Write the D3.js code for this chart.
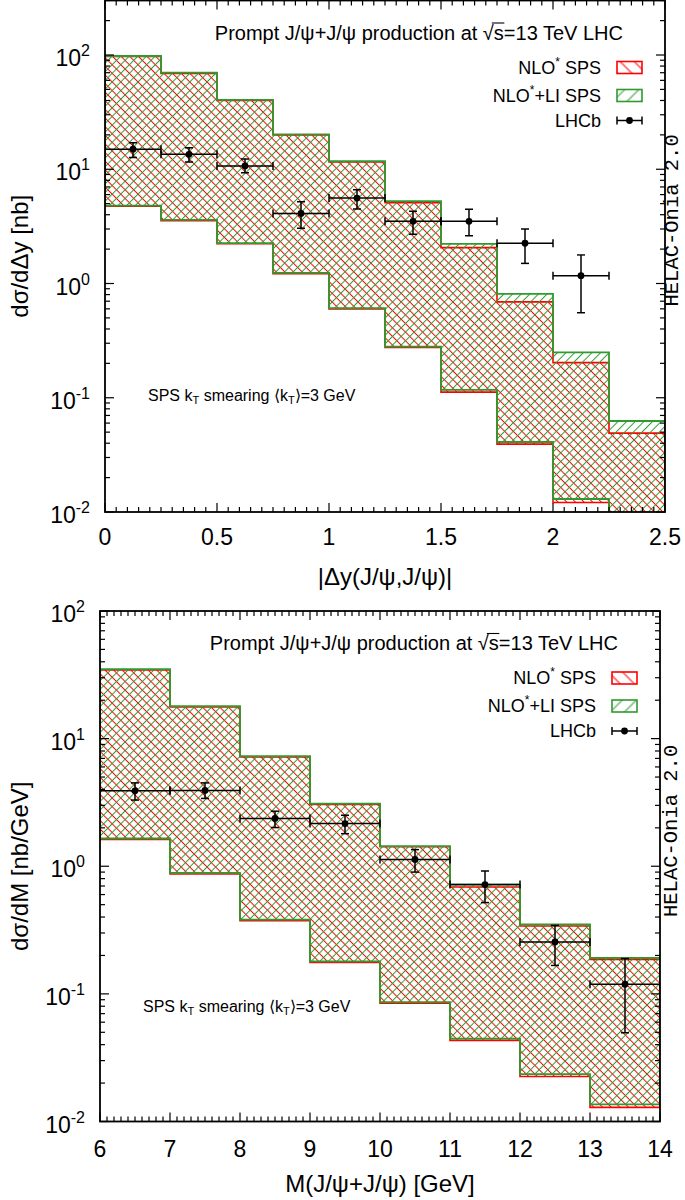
<!DOCTYPE html>
<html><head><meta charset="utf-8">
<script src="https://cdn.jsdelivr.net/npm/d3@7"></script>
<style>body{margin:0;background:#fff}svg{display:block}text{fill:#000}</style>
</head><body><svg id="c" width="685" height="1200"></svg>
<script>
// ---------- Top panel: |Δy| distribution ----------
const dyEdges = [0, 0.25, 0.5, 0.75, 1.0, 1.25, 1.5, 1.75, 2.0, 2.25, 2.5];
const dyRedUp    = [97, 69, 40, 20, 11.6, 5.1, 2.06, 0.69, 0.203, 0.049];
const dyGreenUp  = [98, 70, 40.5, 20.2, 11.8, 5.27, 2.22, 0.81, 0.25, 0.0626];
const dyRedLow   = [4.75, 3.55, 2.23, 1.22, 0.60, 0.275, 0.112, 0.0393, 0.0121, 0.004];
const dyGreenLow = [4.8, 3.6, 2.26, 1.24, 0.61, 0.28, 0.117, 0.041, 0.013, 0.0045];
const dyDataX  = [0.125, 0.375, 0.625, 0.875, 1.125, 1.375, 1.625, 1.875, 2.125];
const dyData   = [15.0, 13.5, 10.7, 4.1, 5.6, 3.5, 3.5, 2.25, 1.17];
const dyErrHi  = [17.1, 15.4, 12.3, 5.2, 6.6, 4.3, 4.46, 3.0, 1.78];
const dyErrLo  = [12.7, 11.6, 9.3, 3.04, 4.5, 2.7, 2.62, 1.5, 0.555];
const dyXTicks = [0, 0.5, 1, 1.5, 2, 2.5];

// ---------- Bottom panel: M distribution ----------
const mEdges = [6, 7, 8, 9, 10, 11, 12, 13, 14];
const mRedUp    = [34.5, 17.7, 7.2, 3.05, 1.42, 0.688, 0.340, 0.186];
const mGreenUp  = [35, 18.0, 7.29, 3.1, 1.44, 0.718, 0.351, 0.191];
const mRedLow   = [1.62, 0.87, 0.375, 0.176, 0.0845, 0.0432, 0.0225, 0.0129];
const mGreenLow = [1.65, 0.886, 0.382, 0.18, 0.0863, 0.0446, 0.0235, 0.0136];
const mDataX  = [6.5, 7.5, 8.5, 9.5, 10.5, 11.5, 12.5, 13.5];
const mData   = [3.9, 3.93, 2.37, 2.16, 1.13, 0.718, 0.255, 0.119];
const mErrHi  = [4.5, 4.5, 2.7, 2.51, 1.35, 0.918, 0.344, 0.189];
const mErrLo  = [3.3, 3.4, 2.01, 1.8, 0.90, 0.519, 0.167, 0.0496];
const mXTicks = [6, 7, 8, 9, 10, 11, 12, 13, 14];

const yExps = [-2, -1, 0, 1, 2];
const legendLabels = ["NLO", "NLO", "LHCb"];

const SANS = "'Liberation Sans', Arial, sans-serif";
const MONO = "'Liberation Mono', 'DejaVu Sans Mono', monospace";
const RED = "#ff0000", GREEN = "#2f9a2f";
const svg = d3.select("#c").style("font-family", SANS);
const defs = svg.append("defs");
function hatch(id, color, angle, sp) {
  const p = defs.append("pattern").attr("id", id).attr("patternUnits", "userSpaceOnUse")
    .attr("width", sp).attr("height", sp).attr("patternTransform", `rotate(${angle})`);
  p.append("line").attr("x1", sp / 2).attr("y1", -1).attr("x2", sp / 2).attr("y2", sp + 1)
    .attr("stroke", color).attr("stroke-width", 1);
}
hatch("hR", RED, -45, 6.1);
hatch("hG", GREEN, 45, 6.1);
hatch("hRL", RED, -45, 10);
hatch("hGL", GREEN, 45, 10);

function panel(o, idx) {
  const x = d3.scaleLinear().domain(o.xdom).range([o.L, o.R]);
  const y = d3.scaleLog().domain(o.ydom).range([o.B, o.T]);
  const g = svg.append("g");
  const cid = "clip" + idx;
  defs.append("clipPath").attr("id", cid).append("rect")
    .attr("x", o.L).attr("y", o.T).attr("width", o.R - o.L).attr("height", o.B - o.T);
  const pg = g.append("g").attr("clip-path", `url(#${cid})`);

  const line = d3.line().x(d => x(d[0])).y(d => y(d[1]));
  function band(edges, up, lo) {
    const pts = [];
    up.forEach((v, i) => { pts.push([edges[i], v]); pts.push([edges[i + 1], v]); });
    for (let i = lo.length - 1; i >= 0; i--) { pts.push([edges[i + 1], lo[i]]); pts.push([edges[i], lo[i]]); }
    return line(pts) + "Z";
  }
  pg.append("path").attr("d", band(o.edges, o.redUp, o.redLow))
    .attr("fill", "url(#hR)").attr("stroke", RED).attr("stroke-width", 1.6);
  pg.append("path").attr("d", band(o.edges, o.greenUp, o.greenLow))
    .attr("fill", "url(#hG)").attr("stroke", GREEN).attr("stroke-width", 1.8);

  // data points
  const hw = (o.edges[1] - o.edges[0]) / 2;
  const dg = pg.append("g").attr("stroke", "#000").attr("stroke-width", 1.5);
  o.dataX.forEach((xv, i) => {
    const cx = x(xv), cy = y(o.data[i]);
    const x0 = x(xv - hw), x1 = x(xv + hw), yh = y(o.errHi[i]), yl = y(o.errLo[i]);
    dg.append("line").attr("x1", x0).attr("x2", x1).attr("y1", cy).attr("y2", cy);
    dg.append("line").attr("x1", x0).attr("x2", x0).attr("y1", cy - 4).attr("y2", cy + 4);
    dg.append("line").attr("x1", x1).attr("x2", x1).attr("y1", cy - 4).attr("y2", cy + 4);
    dg.append("line").attr("x1", cx).attr("x2", cx).attr("y1", yh).attr("y2", yl);
    dg.append("line").attr("x1", cx - 4).attr("x2", cx + 4).attr("y1", yh).attr("y2", yh);
    dg.append("line").attr("x1", cx - 4).attr("x2", cx + 4).attr("y1", yl).attr("y2", yl);
    dg.append("circle").attr("cx", cx).attr("cy", cy).attr("r", 3.4).attr("fill", "#000").attr("stroke", "none");
  });

  // ticks
  const tk = g.append("g").attr("stroke", "#000").attr("stroke-width", 1.2);
  const [x0d, x1d] = o.xdom;
  const nMinor = Math.round((x1d - x0d) / o.minorStep);
  for (let k = 0; k <= nMinor; k++) {
    const v = x0d + k * o.minorStep;
    const isMajor = o.xticks.some(t => Math.abs(t - v) < 1e-9);
    const len = isMajor ? 9 : 5;
    tk.append("line").attr("x1", x(v)).attr("x2", x(v)).attr("y1", o.B).attr("y2", o.B - len);
    tk.append("line").attr("x1", x(v)).attr("x2", x(v)).attr("y1", o.T).attr("y2", o.T + len);
  }
  const [ylo, yhi] = o.ydom;
  for (let e = -2; e <= 2; e++) {
    for (let m = 1; m <= 9; m++) {
      const v = m * Math.pow(10, e);
      if (v < ylo * 0.999 || v > yhi * 1.001) continue;
      const len = m === 1 ? 9 : 5;
      tk.append("line").attr("x1", o.L).attr("x2", o.L + len).attr("y1", y(v)).attr("y2", y(v));
      tk.append("line").attr("x1", o.R).attr("x2", o.R - len).attr("y1", y(v)).attr("y2", y(v));
    }
  }
  // frame
  g.append("rect").attr("x", o.L).attr("y", o.T).attr("width", o.R - o.L).attr("height", o.B - o.T)
    .attr("fill", "none").attr("stroke", "#000").attr("stroke-width", 1.8);

  // tick labels
  o.xticks.forEach(t => {
    g.append("text").attr("x", x(t)).attr("y", o.B + o.xlabDy).attr("text-anchor", "middle")
      .attr("font-size", 23).text(d3.format("")(t));
  });
  yExps.forEach(e => {
    const t = g.append("text").attr("x", o.L - 15).attr("y", y(Math.pow(10, e)) + 11)
      .attr("text-anchor", "end").attr("font-size", 23);
    t.append("tspan").text("10");
    t.append("tspan").attr("dy", -10).attr("font-size", 16).text(String(e));
  });

  // axis titles
  g.append("text").attr("transform", `translate(${o.ytitleX},${(o.T + o.B) / 2}) rotate(-90)`)
    .attr("text-anchor", "middle").attr("font-size", 24).text(o.ytitle);
  g.append("text").attr("x", (o.L + o.R) / 2).attr("y", o.xtitleY).attr("text-anchor", "middle")
    .attr("font-size", 24).text(o.xtitle);

  // title
  const titleStr = "Prompt J/ψ+J/ψ production at √s=13 TeV LHC";
  const ty = o.T + o.legY[0] + 7;
  const tt = g.append("text").attr("x", o.R - 42).attr("y", ty).attr("text-anchor", "end")
    .attr("font-size", 20).text(titleStr);
  const node = tt.node();
  const si = titleStr.indexOf("√") + 1;
  const s1 = node.getEndPositionOfChar(si);
  const r0 = node.getStartPositionOfChar(si - 1);
  g.append("line").attr("x1", r0.x + 9).attr("x2", s1.x + 0.5)
    .attr("y1", ty - 16.5).attr("y2", ty - 16.5)
    .attr("stroke", "#000").attr("stroke-width", 1.1);

  // legend
  const tx = o.R - 64, bx0 = o.R - 48, bx1 = o.R - 23;
  const l1 = g.append("text").attr("x", tx).attr("y", o.T + o.legY[1] + 6).attr("text-anchor", "end").attr("font-size", 18);
  l1.append("tspan").text(legendLabels[0]);
  l1.append("tspan").attr("dy", -8).attr("font-size", 12).text("*");
  l1.append("tspan").attr("dy", 8).text(" SPS");
  const l2 = g.append("text").attr("x", tx).attr("y", o.T + o.legY[2] + 6).attr("text-anchor", "end").attr("font-size", 18);
  l2.append("tspan").text(legendLabels[1]);
  l2.append("tspan").attr("dy", -8).attr("font-size", 12).text("*");
  l2.append("tspan").attr("dy", 8).text("+LI SPS");
  g.append("text").attr("x", tx).attr("y", o.T + o.legY[3] + 6).attr("text-anchor", "end").attr("font-size", 18).text(legendLabels[2]);
  g.append("rect").attr("x", bx0).attr("y", o.T + o.legY[1] - 6).attr("width", bx1 - bx0).attr("height", 12)
    .attr("fill", "url(#hRL)").attr("stroke", RED).attr("stroke-width", 1.6);
  g.append("rect").attr("x", bx0).attr("y", o.T + o.legY[2] - 6).attr("width", bx1 - bx0).attr("height", 12)
    .attr("fill", "url(#hGL)").attr("stroke", GREEN).attr("stroke-width", 1.6);
  const ly = o.T + o.legY[3];
  const lg = g.append("g").attr("stroke", "#000").attr("stroke-width", 1.5);
  lg.append("line").attr("x1", bx0).attr("x2", bx1).attr("y1", ly).attr("y2", ly);
  lg.append("line").attr("x1", bx0).attr("x2", bx0).attr("y1", ly - 4).attr("y2", ly + 4);
  lg.append("line").attr("x1", bx1).attr("x2", bx1).attr("y1", ly - 4).attr("y2", ly + 4);
  lg.append("circle").attr("cx", (bx0 + bx1) / 2).attr("cy", ly).attr("r", 3.4).attr("fill", "#000").attr("stroke", "none");

  // smearing label
  const sm = g.append("text").attr("x", o.L + 43).attr("y", y(0.1) + o.smDy).attr("font-size", 16);
  sm.append("tspan").text("SPS k");
  sm.append("tspan").attr("dy", 3).attr("font-size", 11).text("T");
  sm.append("tspan").attr("dy", -3).text(" smearing ⟨k");
  sm.append("tspan").attr("dy", 3).attr("font-size", 11).text("T");
  sm.append("tspan").attr("dy", -3).text("⟩=3 GeV");

  // HELAC label
  g.append("text").attr("transform", `translate(${o.helacX},${o.T + 306}) rotate(-90)`)
    .style("font-family", MONO).attr("font-size", 20.5).text("HELAC-Onia 2.0");
}

panel({
  L: 105, R: 665, T: 0.5, B: 512, xdom: [0, 2.5], ydom: [0.01, 300], minorStep: 0.05,
  edges: dyEdges, redUp: dyRedUp, greenUp: dyGreenUp, redLow: dyRedLow, greenLow: dyGreenLow,
  dataX: dyDataX, data: dyData, errHi: dyErrHi, errLo: dyErrLo, xticks: dyXTicks,
  xlabDy: 33, ytitle: "dσ/dΔy [nb]", ytitleX: 28, xtitle: "|Δy(J/ψ,J/ψ)|", xtitleY: 585,
  legY: [32, 67, 95, 120], smDy: 3, helacX: 678
}, 0);
panel({
  L: 100, R: 660, T: 611, B: 1121.5, xdom: [6, 14], ydom: [0.01, 100], minorStep: 0.1,
  edges: mEdges, redUp: mRedUp, greenUp: mGreenUp, redLow: mRedLow, greenLow: mGreenLow,
  dataX: mDataX, data: mData, errHi: mErrHi, errLo: mErrLo, xticks: mXTicks,
  xlabDy: 35, ytitle: "dσ/dM [nb/GeV]", ytitleX: 28, xtitle: "M(J/ψ+J/ψ) [GeV]", xtitleY: 1192,
  legY: [32, 67, 95, 120], smDy: 18, helacX: 677
}, 1);
</script></body></html>
